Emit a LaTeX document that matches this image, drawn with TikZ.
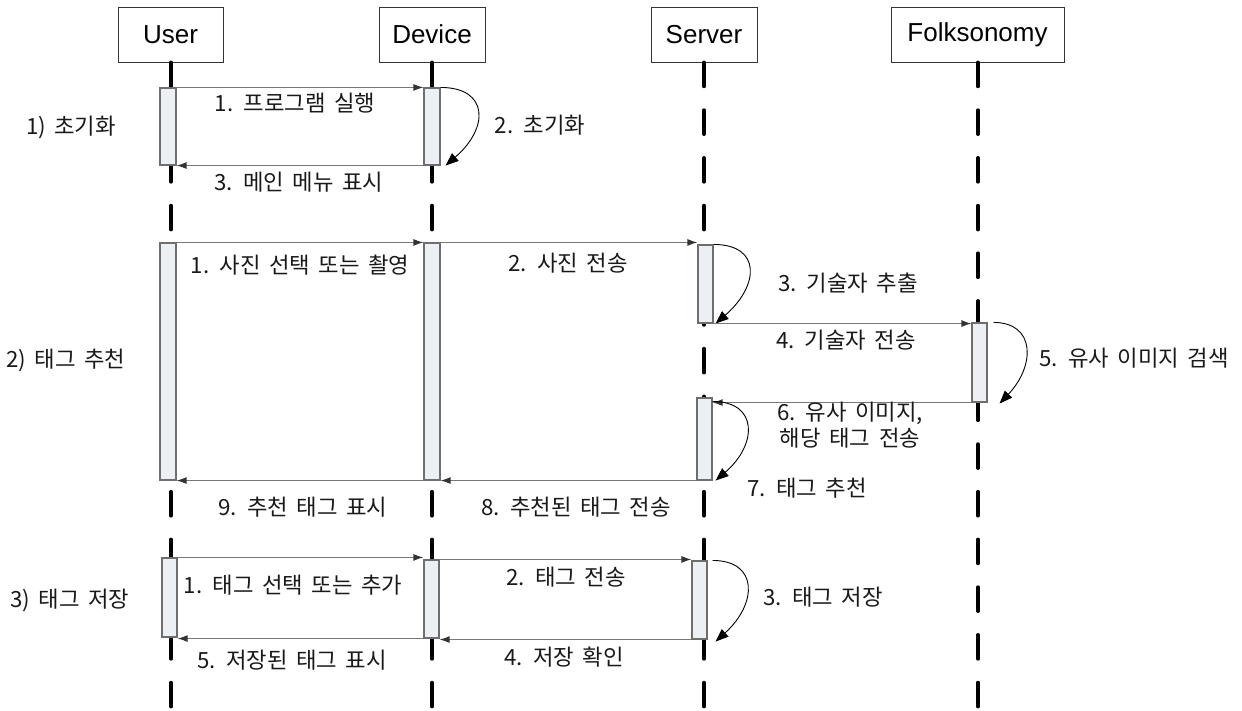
\documentclass[tikz,border=0pt]{standalone}
\usepackage{fontspec}
\setmainfont{Noto Sans CJK KR}[WordSpace=1.7]
\newfontfamily\hdrfont{Liberation Sans}
\usetikzlibrary{arrows.meta}
\definecolor{barfill}{RGB}{236,239,244}
\definecolor{bargray}{RGB}{110,110,110}
\definecolor{msggray}{RGB}{120,120,120}
\begin{document}
\begin{tikzpicture}[x=1pt,y=-1pt,
  actor/.style={draw=black!80, line width=0.9pt, fill=white, minimum height=55pt, inner sep=0pt, font=\hdrfont\fontsize{26}{30}\selectfont},
  life/.style={line width=3.6pt, line cap=round, dash pattern=on 24pt off 23.7pt},
  bar/.style={draw=bargray, fill=barfill, line width=1.1pt, inner sep=0pt, minimum width=16pt},
  msg/.style={draw=msggray, line width=1.3pt, -{Latex[length=10pt,width=7pt,color=black!80]}},
  selfmsg/.style={draw=black, line width=0.9pt, -{Triangle[length=13pt,width=10pt]}},
  lbl/.style={font=\fontsize{22.3}{26.5}\selectfont, text=black!90, inner sep=0pt, align=center},
]
\useasboundingbox (0,0) rectangle (1242,711);

% actors
\node[actor, minimum width=105pt] (U) at (170.5,34.5) {User};
\node[actor, minimum width=106pt] (D) at (432,34.5) {Device};
\node[actor, minimum width=106pt] (S) at (704,34.5) {Server};
\node[actor, minimum width=173pt] (F) at (977.5,34.5) {Folksonomy};

% lifelines
\coordinate (Ue) at (171,712);
\coordinate (De) at (432,712);
\coordinate (Se) at (704,712);
\coordinate (Fe) at (978,712);
\draw[life] (U.south -| Ue) -- (Ue);
\draw[life] (D.south -| De) -- (De);
\draw[life] (S.south -| Se) -- (Se);
\draw[life] (F.south -| Fe) -- (Fe);

% activation bars
\node[bar, minimum height=77pt] (A1) at (168,126.5) {};
\node[bar, minimum height=77pt] (D1) at (432,126.5) {};
\node[bar, minimum height=237pt] (A2) at (168,361.5) {};
\node[bar, minimum height=237pt] (D2) at (432,361.5) {};
\node[bar, minimum height=78pt, minimum width=15pt] (S1) at (705.5,284) {};
\node[bar, minimum height=79pt, minimum width=15pt] (F1) at (979.5,362.5) {};
\node[bar, minimum height=82pt, minimum width=15pt] (S2) at (704.5,439) {};
\node[bar, minimum height=79pt, minimum width=15pt] (A3) at (169.5,597.5) {};
\node[bar, minimum height=78pt, minimum width=15pt] (D3) at (431.5,599) {};
\node[bar, minimum height=78pt, minimum width=15pt] (S3) at (699.5,600) {};

% section 1
\draw[msg] (A1.north east) -- (D1.north west);
\draw[selfmsg] (D1.north east) .. controls +(48,0) and +(44,-38) .. ([xshift=5pt]D1.south east);
\draw[msg] (D1.south west) -- (A1.south east);

% section 2
\draw[msg] (A2.north east) -- (A2.north east -| D2.west);
\draw[msg] (D2.north east) -- (D2.north east -| S1.west);
\draw[selfmsg] (S1.north east) .. controls +(48,0) and +(44,-38) .. ([xshift=2pt]S1.south east);
\draw[msg] (S1.south east) -- (S1.south east -| F1.west);
\draw[selfmsg] ([xshift=6pt]F1.north east) .. controls +(42,0) and +(36,-38) .. ([xshift=12pt,yshift=-1pt]F1.south east);
\draw[msg] (F1.south west) -- (F1.south west -| S2.east);
\draw[selfmsg] ([yshift=-4pt]S2.north east) .. controls +(46,0) and +(42,-36) .. ([xshift=3pt]S2.south east);
\draw[msg] (S2.south west) -- (S2.south west -| D2.east);
\draw[msg] (D2.south west) -- (A2.south east);

% section 3
\draw[msg] (A3.north east) -- (A3.north east -| D3.west);
\draw[msg] (D3.north east) -- (D3.north east -| S3.west);
\draw[selfmsg] ([xshift=5pt]S3.north east) .. controls +(46,0) and +(42,-38) .. ([xshift=8pt,yshift=-2pt]S3.south east);
\draw[msg] (S3.south west) -- (S3.south west -| D3.east);
\draw[msg] (D3.south west) -- (D3.south west -| A3.east);

% section labels
\node[lbl] (g1) at (71,127) {1) 초기화};
\node[lbl] (g2) at (66,360) {2) 태그 추천};
\node[lbl] (g3) at (70,600) {3) 태그 저장};

% message labels
\node[lbl] (m11) at (295,103) {1. 프로그램 실행};
\node[lbl] (m12) at (540,125) {2. 초기화};
\node[lbl] (m13) at (299,182) {3. 메인 메뉴 표시};

\node[lbl] (m21) at (300,265) {1. 사진 선택 또는 촬영};
\node[lbl] (m22) at (568,263) {2. 사진 전송};
\node[lbl] (m23) at (848,283) {3. 기술자 추출};
\node[lbl] (m24) at (846,340) {4. 기술자 전송};
\node[lbl] (m25) at (1134,358) {5. 유사 이미지 검색};
\node[lbl] (m26) at (850,425) {6. 유사 이미지,\\해당 태그 전송};
\node[lbl] (m27) at (807,488) {7. 태그 추천};
\node[lbl] (m28) at (576,507) {8. 추천된 태그 전송};
\node[lbl] (m29) at (303,507) {9. 추천 태그 표시};

\node[lbl] (m31) at (293,585) {1. 태그 선택 또는 추가};
\node[lbl] (m32) at (566,577) {2. 태그 전송};
\node[lbl] (m33) at (823,597) {3. 태그 저장};
\node[lbl] (m34) at (564,657) {4. 저장 확인};
\node[lbl] (m35) at (292,660) {5. 저장된 태그 표시};
\end{tikzpicture}
\end{document}
